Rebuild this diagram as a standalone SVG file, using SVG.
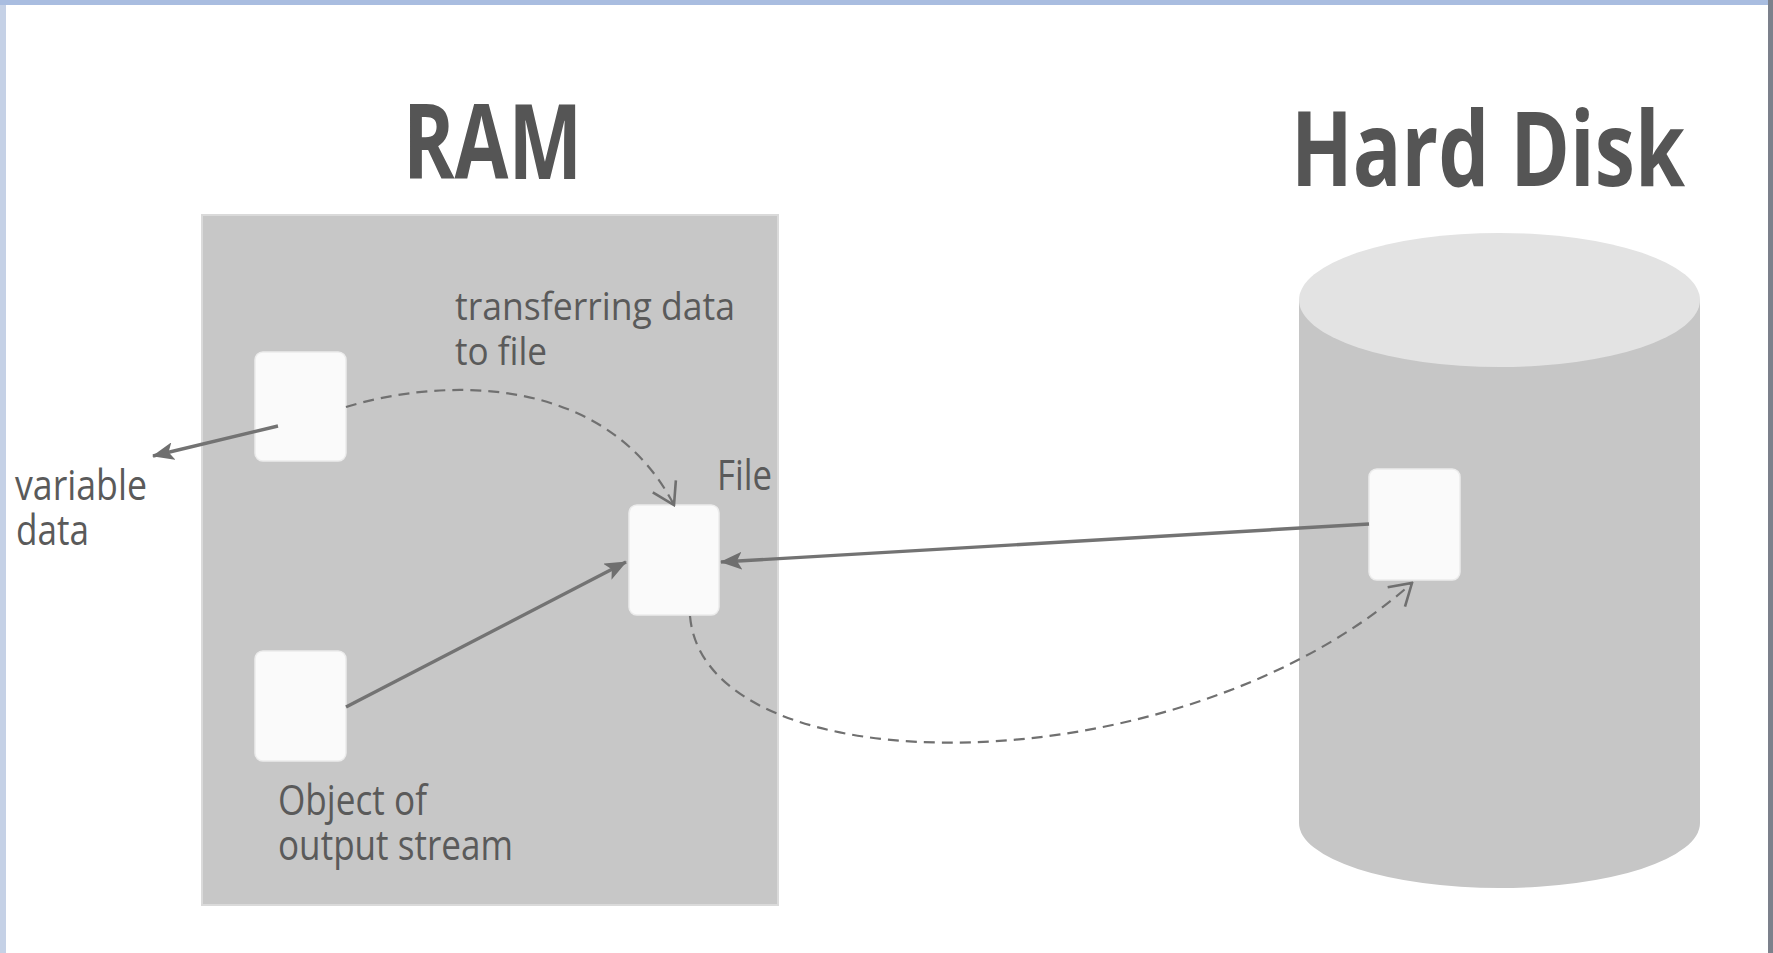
<svg xmlns="http://www.w3.org/2000/svg" width="1773" height="953" viewBox="0 0 1773 953">
<style>
.title{font-family:"Open Sans","Liberation Sans",sans-serif;font-weight:bold;font-size:104px;fill:#555555}
.lbl{font-family:"Open Sans","Liberation Sans",sans-serif;font-size:42px;fill:#5a5a5a}
.node{fill:#fafafa;stroke:#ececec;stroke-width:1.5}
.solid{fill:none;stroke:#737373;stroke-width:3.4}
.dash{fill:none;stroke:#707070;stroke-width:2.2;stroke-dasharray:11 7}
</style>
<defs>
<marker id="fill" viewBox="0 0 22 18" refX="21" refY="9" markerWidth="22" markerHeight="18" markerUnits="userSpaceOnUse" orient="auto">
<path d="M0,0 L22,9 L0,18 L5,9 z" fill="#6f6f6f"/>
</marker>
<marker id="open" viewBox="-26 -16 28 32" refX="0" refY="0" markerWidth="28" markerHeight="32" markerUnits="userSpaceOnUse" orient="auto">
<path d="M-21,-13 L0,0 L-21,13" fill="none" stroke="#6f6f6f" stroke-width="2.6"/>
</marker>
</defs>
<rect x="0" y="0" width="1773" height="953" fill="#ffffff"/>
<g id="frame">
<rect x="0" y="0" width="6" height="953" fill="#c5d1e6"/>
<rect x="0" y="0" width="1773" height="5" fill="#a9bde0"/>
<rect x="1768" y="0" width="5" height="953" fill="#7c818c"/>
</g>
<g id="ram">
<rect x="202" y="215" width="576" height="690" fill="#c7c7c7" stroke="#dadada" stroke-width="2"/>
<text class="title" x="403" y="179" textLength="179" lengthAdjust="spacingAndGlyphs">RAM</text>
</g>
<g id="harddisk">
<path d="M1299,300 L1299,823 A200.5,65 0 0 0 1700,823 L1700,300 Z" fill="#c6c6c6"/>
<ellipse cx="1499.5" cy="300" rx="200.5" ry="67" fill="#e3e3e3"/>
<text class="title" x="1291" y="186" textLength="394" lengthAdjust="spacingAndGlyphs">Hard Disk</text>
</g>
<g id="node-variable">
<rect class="node" x="255" y="352" width="91" height="109" rx="8"/>
<text class="lbl" x="15" y="500" textLength="132" lengthAdjust="spacingAndGlyphs">variable</text>
<text class="lbl" x="16" y="545" textLength="73" lengthAdjust="spacingAndGlyphs">data</text>
</g>
<g id="node-file">
<rect class="node" x="629" y="505" width="90" height="110" rx="8"/>
<text class="lbl" x="717" y="490" textLength="55" lengthAdjust="spacingAndGlyphs">File</text>
</g>
<g id="node-object">
<rect class="node" x="255" y="651" width="91" height="110" rx="8"/>
<text class="lbl" x="278" y="815" textLength="149" lengthAdjust="spacingAndGlyphs">Object of</text>
<text class="lbl" x="278" y="860" textLength="235" lengthAdjust="spacingAndGlyphs">output stream</text>
</g>
<g id="node-disk">
<rect class="node" x="1369" y="469" width="91" height="111" rx="8"/>
</g>
<g id="label-transfer">
<text class="lbl" x="455" y="320" style="font-size:39px" textLength="280" lengthAdjust="spacingAndGlyphs">transferring data</text>
<text class="lbl" x="455" y="365" style="font-size:39px" textLength="92" lengthAdjust="spacingAndGlyphs">to file</text>
</g>
<g id="connectors">
<line class="solid" x1="278" y1="426" x2="153" y2="456" marker-end="url(#fill)"/>
<path class="dash" d="M346,407 C440,378 605,372 674,505" marker-end="url(#open)"/>
<line class="solid" x1="346" y1="707" x2="626" y2="562" marker-end="url(#fill)"/>
<line class="solid" x1="1369" y1="524" x2="721" y2="562" marker-end="url(#fill)"/>
<path class="dash" d="M690,616 C705,790 1180,790 1412,583" marker-end="url(#open)"/>
</g>
</svg>
